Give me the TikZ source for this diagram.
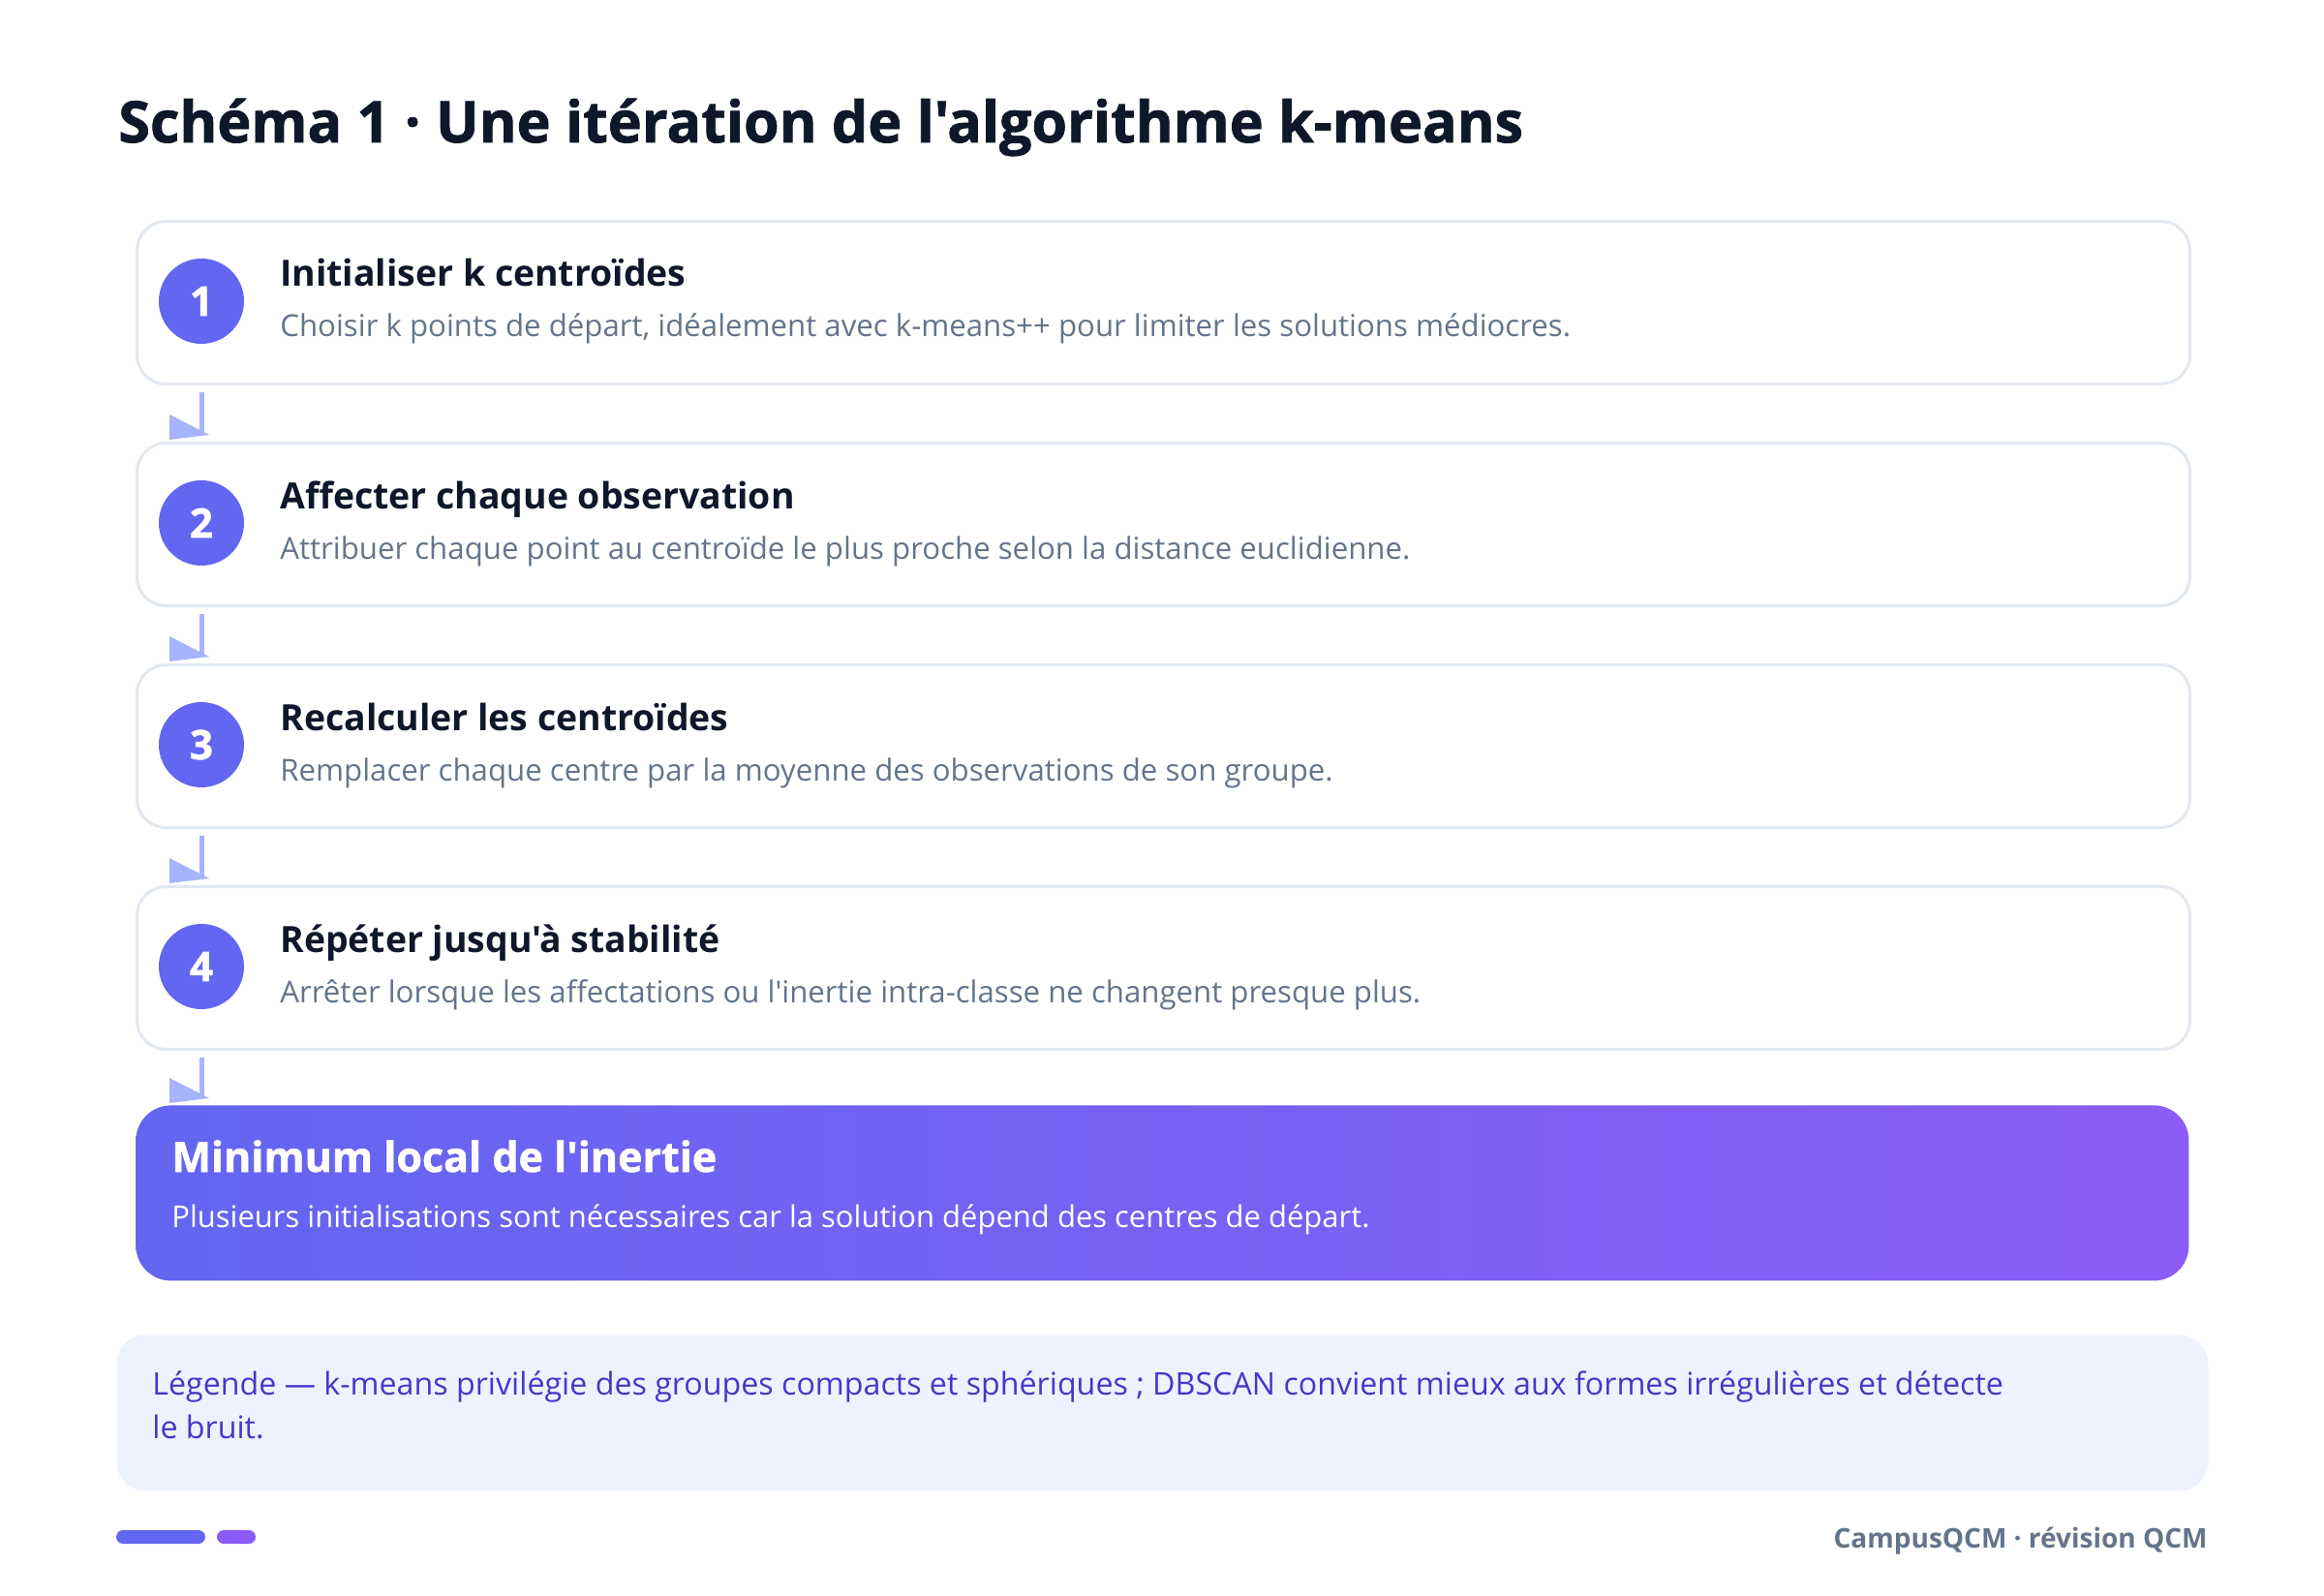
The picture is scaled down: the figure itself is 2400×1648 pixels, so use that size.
\documentclass[tikz,border=0pt]{standalone}
\usepackage{fontspec}
\setmainfont{Open Sans}[Ligatures=TeXOff]
\newfontfamily\heavyfont{Open Sans}[Ligatures=TeXOff, BoldFeatures={FakeBold=1.3}]
\usetikzlibrary{calc}
\definecolor{ink}{HTML}{0F172A}
\definecolor{muted}{HTML}{64748B}
\definecolor{bordergray}{HTML}{E2E8F0}
\definecolor{indigo}{HTML}{6366F1}
\definecolor{violet}{HTML}{8B5CF6}
\definecolor{arrowc}{HTML}{A5B4FC}
\definecolor{legbg}{HTML}{EEF2FF}
\definecolor{legtext}{HTML}{4338CA}
\begin{document}
\begin{tikzpicture}[x=0.5pt,y=-0.5pt,
  stepbox/.style={draw=bordergray, line width=1.5pt, fill=white, rounded corners=15pt,
    minimum width=1060pt, minimum height=84pt, inner sep=0pt, anchor=north west},
  numc/.style={circle, fill=indigo, minimum size=44pt, inner sep=0pt, text=white,
    font=\fontsize{21}{25}\selectfont\heavyfont\bfseries},
  steptitle/.style={anchor=base west, inner sep=0pt, text=ink,
    font=\fontsize{18.7}{22}\selectfont\bfseries},
  stepdesc/.style={anchor=base west, inner sep=0pt, text=muted,
    font=\fontsize{15.6}{19}\selectfont},
  conn/.style={draw=arrowc, line width=2.5pt},
  headfill/.style={fill=arrowc},
  legline/.style={anchor=base west, inner sep=0pt, text=legtext,
    font=\fontsize{16.1}{19}\selectfont},
]
\useasboundingbox (0,0) rectangle (2400,1648);
\fill[white] (0,0) rectangle (2400,1648);

% title
\node[anchor=base west, inner sep=0pt, text=ink, font=\fontsize{29.6}{35}\selectfont\heavyfont\bfseries]
  (title) at (122,147) {Schéma 1 · Une itération de l'algorithme k-means};

% steps
\node[stepbox] (s1) at (140,227) {};
\node[numc] (c1) at (208,311) {1};
\node[steptitle] (t1) at (289,296) {Initialiser k centroïdes};
\node[stepdesc] (d1) at (289,348) {Choisir k points de départ, idéalement avec k-means++ pour limiter les solutions médiocres.};

\node[stepbox] (s2) at (140,456) {};
\node[numc] (c2) at (208,540) {2};
\node[steptitle] (t2) at (289,525) {Affecter chaque observation};
\node[stepdesc] (d2) at (289,577) {Attribuer chaque point au centroïde le plus proche selon la distance euclidienne.};

\node[stepbox] (s3) at (140,685) {};
\node[numc] (c3) at (208,769) {3};
\node[steptitle] (t3) at (289,754) {Recalculer les centroïdes};
\node[stepdesc] (d3) at (289,806) {Remplacer chaque centre par la moyenne des observations de son groupe.};

\node[stepbox] (s4) at (140,914) {};
\node[numc] (c4) at (208,998) {4};
\node[steptitle] (t4) at (289,983) {Répéter jusqu'à stabilité};
\node[stepdesc] (d4) at (289,1035) {Arrêter lorsque les affectations ou l'inertie intra-classe ne changent presque plus.};

% final box
\node[anchor=north west, inner sep=0pt, minimum width=1060pt, minimum height=90.5pt,
  rounded corners=18pt, left color=indigo, right color=violet] (fin) at (140,1141) {};
\node[anchor=base west, inner sep=0pt, text=white, font=\fontsize{21.5}{26}\selectfont\heavyfont\bfseries]
  (fint) at (177,1210) {Minimum local de l'inertie};
\node[anchor=base west, inner sep=0pt, text=white, font=\fontsize{15.5}{19}\selectfont]
  (find) at (177,1267) {Plusieurs initialisations sont nécessaires car la solution dépend des centres de départ.};

% connectors
\foreach \a/\b in {s1/s2, s2/s3, s3/s4, s4/fin}{
  \draw[conn] ($(\a.south west)+(68,7)$) -- ($(\b.north west)+(68,-7)$);
  \fill[headfill] ($(\b.north west)+(35,-28)$) -- ($(\b.north west)+(35,-2)$)
    -- ($(\b.north west)+(76,-7)$) -- cycle;
}

% legend
\node[anchor=north west, inner sep=0pt, fill=legbg, rounded corners=15pt,
  minimum width=1080pt, minimum height=80.5pt] (leg) at (120,1378) {};
\node[legline] (leg1) at (157,1440) {Légende — k-means privilégie des groupes compacts et sphériques ; DBSCAN convient mieux aux formes irrégulières et détecte};
\node[legline] (leg2) at (157,1485) {le bruit.};

% footer
\fill[indigo, rounded corners=3.5pt] (120,1580) rectangle (212,1594);
\fill[violet, rounded corners=3.5pt] (224,1580) rectangle (264,1594);
\node[anchor=base east, inner sep=0pt, text=muted, font=\fontsize{14}{17}\selectfont\bfseries]
  (foot) at (2280,1598) {CampusQCM · révision QCM};
\end{tikzpicture}
\end{document}
